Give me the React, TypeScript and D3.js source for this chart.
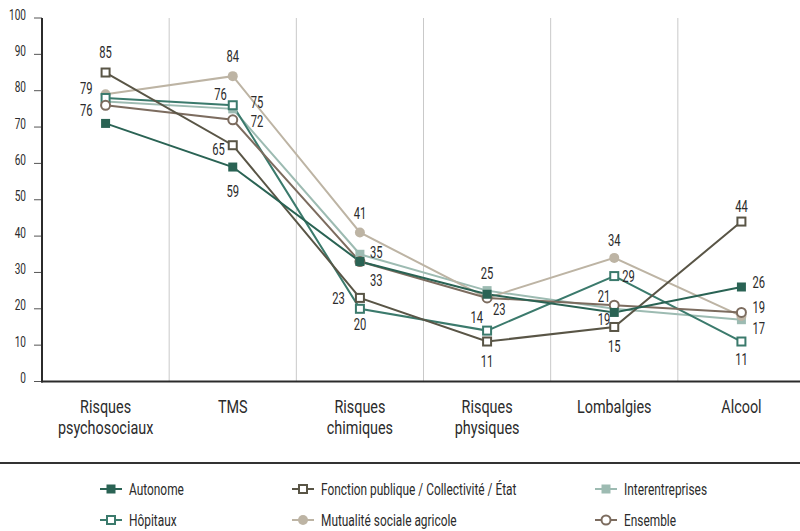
import React from "react";
import * as d3 from "d3";

const categories = [
  ["Risques", "psychosociaux"],
  ["TMS"],
  ["Risques", "chimiques"],
  ["Risques", "physiques"],
  ["Lombalgies"],
  ["Alcool"],
];
const catKeys = categories.map((c) => c.join(" "));

const autonome = [71, 59, 33, 24, 19, 26];
const fonctionPublique = [85, 65, 23, 11, 15, 44];
const interentreprises = [77, 75, 35, 25, 20, 17];
const hopitaux = [78, 76, 20, 14, 29, 11];
const msa = [79, 84, 41, 23, 34, 18];
const ensemble = [76, 72, 33, 23, 21, 19];

const yTicks = [0, 10, 20, 30, 40, 50, 60, 70, 80, 90, 100];

// label placement per point (style only): [dx, dy, anchor] or null = no label
type LP = [number, number, string] | null;
const autonomeLabels: LP[] = [null, [0, 30, "middle"], null, null, [-4, 13, "end"], [11, 1, "start"]];
const fonctionLabels: LP[] = [[0, -14.5, "middle"], [-8, 9.5, "end"], [-15, 6.5, "end"], [0, 25, "middle"], [0, 25, "middle"], [0, -10, "middle"]];
const interLabels: LP[] = [null, [18, -0.5, "start"], [10, 3.5, "start"], [0, -12, "middle"], null, [11, 14.5, "start"]];
const hopitauxLabels: LP[] = [null, [-6, -5.5, "end"], [0, 21.5, "middle"], [-4, -7.5, "end"], [8, 5.5, "start"], [0, 23, "middle"]];
const msaLabels: LP[] = [[-13, -0.5, "end"], [0, -14.5, "middle"], [0, -13, "middle"], null, [0, -11.5, "middle"], null];
const ensembleLabels: LP[] = [[-13, 10.5, "end"], [18, 7, "start"], [10, 24.5, "start"], [6, 17.5, "start"], [-4, -3.5, "end"], [11, 1, "start"]];

type Series = {
  name: string;
  values: number[];
  labels: LP[];
  color: string;
  shape: "square" | "circle";
  filled: boolean;
};

const series: Series[] = [
  { name: "Interentreprises", values: interentreprises, labels: interLabels, color: "#9dbbb2", shape: "square", filled: true },
  { name: "Mutualité sociale agricole", values: msa, labels: msaLabels, color: "#bdb4a4", shape: "circle", filled: true },
  { name: "Hôpitaux", values: hopitaux, labels: hopitauxLabels, color: "#3b7a6c", shape: "square", filled: false },
  { name: "Ensemble", values: ensemble, labels: ensembleLabels, color: "#7c6c5f", shape: "circle", filled: false },
  { name: "Fonction publique / Collectivité / État", values: fonctionPublique, labels: fonctionLabels, color: "#595546", shape: "square", filled: false },
  { name: "Autonome", values: autonome, labels: autonomeLabels, color: "#2a6354", shape: "square", filled: true },
];

const legendOrder = [
  ["Autonome", "Fonction publique / Collectivité / État", "Interentreprises"],
  ["Hôpitaux", "Mutualité sociale agricole", "Ensemble"],
];

const FONT = "Roboto, 'DejaVu Sans Condensed', sans-serif";
const TXT = "#2b2b2b";

const W = 800;
const H = 531;
const left = 42;
const right = 805;
const top = 18;
const bottom = 381.5;

const x = d3.scaleBand<string>().domain(catKeys).range([left, right]);
const y = d3.scaleLinear().domain([0, 100]).range([bottom, top]);
const cx = (i: number) => (x(catKeys[i]) as number) + x.bandwidth() / 2;

function T(props: { x: number; y: number; size: number; anchor?: string; sx: number; children: React.ReactNode; fill?: string }) {
  const { x: tx, y: ty, size, anchor = "middle", sx, children, fill = TXT } = props;
  return (
    <text
      transform={`translate(${tx},${ty}) scale(${sx},1)`}
      fontFamily={FONT}
      fontSize={size}
      textAnchor={anchor as any}
      fill={fill}
    >
      {children}
    </text>
  );
}

function Marker({ cx, cy, s }: { cx: number; cy: number; s: Series }) {
  if (s.shape === "square") {
    const size = s.filled ? 9 : 8;
    return (
      <rect
        x={cx - size / 2}
        y={cy - size / 2}
        width={size}
        height={size}
        fill={s.filled ? s.color : "#fff"}
        stroke={s.color}
        strokeWidth={s.filled ? 0 : 2}
      />
    );
  }
  return (
    <circle
      cx={cx}
      cy={cy}
      r={s.filled ? 5 : 4.5}
      fill={s.filled ? s.color : "#fff"}
      stroke={s.color}
      strokeWidth={s.filled ? 0 : 2}
    />
  );
}

export default function App() {
  const line = d3
    .line<number>()
    .x((_, i) => cx(i))
    .y((d) => y(d));

  const colX = [
    [100, 129],
    [292, 321],
    [595, 624],
  ];
  const rowY = [489, 520];

  return (
    <svg width={W} height={H} style={{ position: "absolute", left: 0, top: 0, background: "#fff" }}>
      {/* vertical grid lines */}
      {catKeys.slice(1).map((k) => (
        <line key={k} x1={x(k)} x2={x(k)} y1={top} y2={bottom} stroke="#c9c9c9" strokeWidth={1} />
      ))}
      {/* y ticks */}
      {yTicks.map((t) => (
        <g key={t}>
          <line x1={34} x2={left} y1={y(t)} y2={y(t)} stroke="#555" strokeWidth={1} />
          <T x={26} y={y(t) + 1.5} size={14} anchor="end" sx={0.72}>
            {t}
          </T>
        </g>
      ))}
      {/* axis lines */}
      <line x1={left} x2={left} y1={top} y2={bottom + 1} stroke="#2b2b2b" strokeWidth={2} />
      <line x1={left - 1} x2={W} y1={bottom} y2={bottom} stroke="#2b2b2b" strokeWidth={2} />
      {/* category labels */}
      {categories.map((c, i) => (
        <g key={i}>
          {c.map((ln, j) => (
            <T key={j} x={cx(i)} y={413 + j * 21} size={18} sx={0.8}>
              {ln}
            </T>
          ))}
        </g>
      ))}
      {/* series lines */}
      {series.map((s) => (
        <path key={s.name} d={line(s.values) || ""} fill="none" stroke={s.color} strokeWidth={2} />
      ))}
      {/* markers */}
      {series.map((s) => (
        <g key={s.name + "m"}>
          {s.values.map((v, i) => (
            <Marker key={i} cx={cx(i)} cy={y(v)} s={s} />
          ))}
        </g>
      ))}
      {/* value labels */}
      {series.map((s) => (
        <g key={s.name + "l"}>
          {s.values.map((v, i) => {
            const p = s.labels[i];
            if (!p) return null;
            const [dx, dy, anchor] = p;
            return (
              <T key={i} x={cx(i) + dx} y={y(v) + dy} size={16} anchor={anchor} sx={0.7}>
                {v}
              </T>
            );
          })}
        </g>
      ))}
      {/* separator */}
      <line x1={0} x2={W} y1={463} y2={463} stroke="#333" strokeWidth={2} />
      {/* legend */}
      {legendOrder.map((row, r) =>
        row.map((name, c) => {
          const s = series.find((d) => d.name === name)!;
          const [mx, tx] = colX[c];
          const ly = rowY[r];
          return (
            <g key={name}>
              <line x1={mx} x2={mx + 22} y1={ly} y2={ly} stroke={s.color} strokeWidth={2} />
              <Marker cx={mx + 11} cy={ly} s={s} />
              <T x={tx} y={ly + 6} size={17} anchor="start" sx={0.7}>
                {name}
              </T>
            </g>
          );
        })
      )}
    </svg>
  );
}
